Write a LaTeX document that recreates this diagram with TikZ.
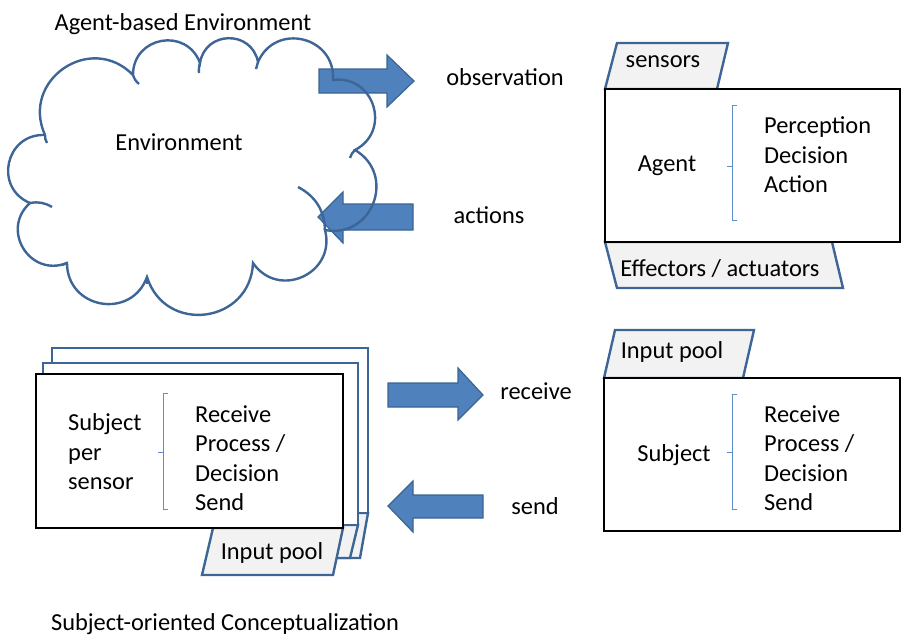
\documentclass[tikz,border=0pt]{standalone}
\usepackage{fontspec}
\setmainfont{Carlito}
\definecolor{arrowfill}{HTML}{4F81BD}
\definecolor{arrowline}{HTML}{3A6494}
\definecolor{cloudline}{HTML}{3D6697}
\definecolor{tabfill}{HTML}{F2F2F2}
\definecolor{bracecol}{HTML}{5E8FCB}
\begin{document}
\begin{tikzpicture}[x=1pt,y=-1pt,
  font=\fontsize{24.4}{29.5}\selectfont,
  blockarrow/.style={fill=arrowfill,draw=arrowline,line width=1.2pt,line join=miter},
  cloudstroke/.style={draw=cloudline,line width=2.4pt},
  puff/.style={bend left=80,looseness=1.45},
  tabshape/.style={fill=tabfill,draw=cloudline,line width=2.4pt,line join=miter},
  mainbox/.style={fill=white,draw=black,line width=2.6pt},
  backbox/.style={fill=white,draw=cloudline,line width=2.4pt},
  bracket/.style={draw=bracecol,line width=0.9pt},
  lbl/.style={inner sep=0pt,anchor=center},
  lines/.style={inner sep=0pt,anchor=west,align=left}]
\useasboundingbox (0,0) rectangle (902,635);

% ---------- titles ----------
\node[lbl] (ttop) at (183,24) {Agent-based Environment};
\node[lbl] (tbot) at (225,624) {Subject-oriented Conceptualization};

% ---------- block arrows (top) ----------
\draw[blockarrow] (319,69) -- (387,69) -- (387,55) -- (414,81) -- (387,107) -- (387,93) -- (319,93) -- cycle;
\draw[blockarrow] (413,204) -- (343,204) -- (343,192) -- (318,217) -- (343,243) -- (343,230) -- (413,230) -- cycle;

% ---------- cloud ----------
\coordinate (c1) at (45,135);
\coordinate (c2) at (133,75);
\coordinate (c3) at (200,63);
\coordinate (c4) at (258,62);
\coordinate (c5) at (333,80);
\coordinate (c6) at (355,150);
\coordinate (c7) at (325,230);
\coordinate (c8) at (253,263);
\coordinate (c9) at (147,277);
\coordinate (c10) at (67,263);
\coordinate (c11) at (30,203);
\draw[cloudstroke] (c1) to[puff] (c2) to[puff] (c3) to[puff] (c4)
  to[puff] (c5) to[puff] (c6) to[puff] (c7) to[puff] (c8)
  to[puff] (c9) to[puff] (c10) to[puff] (c11) to[puff] (c1);
% inner tails of the puffs
\draw[cloudstroke] (c1) to[bend right=15] (47,143);
\draw[cloudstroke] (c2) to[bend right=15] (139,84);
\draw[cloudstroke] (c3) to[bend right=10] (199,73);
\draw[cloudstroke] (c4) to[bend right=10] (256,69);
\draw[cloudstroke] (c6) to[bend right=15] (350,158);
\draw[cloudstroke] (298,187) to[bend left=30] (c7);
\draw[cloudstroke] (c9) to[bend left=10] (147,284);
\draw[cloudstroke] (c10) to[bend left=10] (62,265);
\draw[cloudstroke] (c11) to[bend left=20] (52,207);
\node[lbl] (env) at (179,142) {Environment};

% ---------- labels between ----------
\node[lbl] (obs) at (505,77) {observation};
\node[lbl] (act) at (489,215) {actions};

% ---------- agent box ----------
\draw[tabshape] (605,89) -- (617,43) -- (728,43) -- (717,89) -- cycle;
\node[lbl] (sens) at (663,62) {sensors};
\draw[tabshape] (605,242) -- (617,288) -- (843,288) -- (832,242) -- cycle;
\node[lbl] (eff) at (720,269) {Effectors / actuators};
\draw[mainbox] (605,89) rectangle (900,242);
\node[lbl] (agent) at (667,166) {Agent};
\draw[bracket] (737,105) -- (732,105) -- (732,220) -- (737,220);
\draw[bracket] (732,166) -- (727,166);
\node[lines] (pda) at (764,155) {Perception\\Decision\\Action};

% ---------- block arrows (bottom) ----------
\draw[blockarrow] (388,383) -- (458,383) -- (458,368) -- (483,395) -- (458,420) -- (458,407) -- (388,407) -- cycle;
\draw[blockarrow] (483,495) -- (413,495) -- (413,481) -- (388,506) -- (413,532) -- (413,518) -- (483,518) -- cycle;
\node[lbl] (recv) at (536,391) {receive};
\node[lbl] (send) at (535,506) {send};

% ---------- subject box (right) ----------
\draw[tabshape] (604,378) -- (615,330) -- (754,330) -- (743,378) -- cycle;
\node[lbl] (ipr) at (672,352) {Input pool};
\draw[mainbox] (604,378) rectangle (900,531);
\node[lbl] (subj) at (674,455) {Subject};
\draw[bracket] (737,394) -- (732,394) -- (732,509) -- (737,509);
\draw[bracket] (732,452) -- (727,452);
\node[lines] (rpds) at (764,458) {Receive\\Process /\\Decision\\Send};

% ---------- stacked subject boxes (left) ----------
\draw[tabshape] (240,513) -- (368,513) -- (360,558) -- (232,558) -- cycle;
\draw[backbox] (52,348) rectangle (368,513);
\draw[tabshape] (230,525) -- (358,525) -- (350,558) -- (222,558) -- cycle;
\draw[backbox] (43,363) rectangle (358,525);
\draw[tabshape] (213,528) -- (343,528) -- (333,575) -- (202,575) -- cycle;
\node[lbl] (ipl) at (272,553) {Input pool};
\draw[mainbox] (36,374) rectangle (343,528);
\node[lines] (sps) at (68,452) {Subject\\per\\sensor};
\draw[bracket] (168,393) -- (163,393) -- (163,509) -- (168,509);
\draw[bracket] (163,452) -- (158,452);
\node[lines] (rpdl) at (195,458) {Receive\\Process /\\Decision\\Send};
\end{tikzpicture}
\end{document}
